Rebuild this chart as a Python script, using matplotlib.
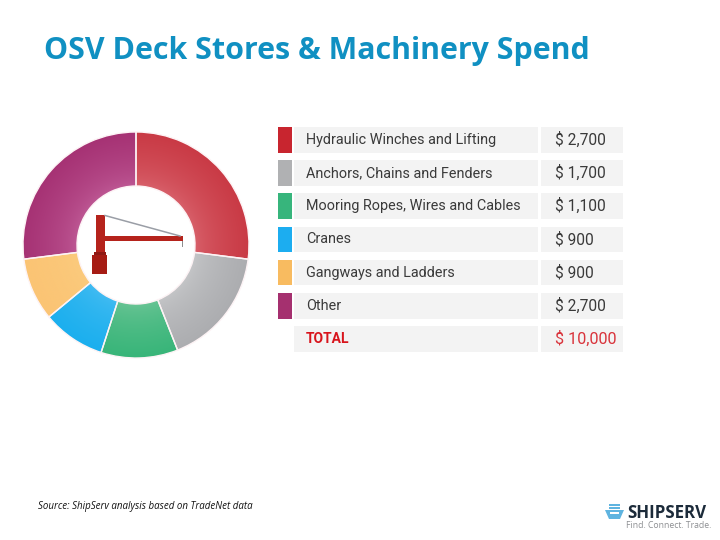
import numpy as np
import matplotlib
matplotlib.use('Agg')
import matplotlib.pyplot as plt
from matplotlib.colors import to_rgb
from matplotlib.patches import Rectangle, Polygon

# data
categories = ['Hydraulic Winches and Lifting', 'Anchors, Chains and Fenders',
              'Mooring Ropes, Wires and Cables', 'Cranes', 'Gangways and Ladders', 'Other']
spend = [2700, 1700, 1100, 900, 900, 2700]
spend_labels = ['$ 2,700', '$ 1,700', '$ 1,100', '$ 900', '$ 900', '$ 2,700']
total_label = 'TOTAL'
total_value = '$ 10,000'

# legend colours, inner and outer shade of the ring
swatch_colors = ['#c8252f', '#b0b1b3', '#37b57c', '#1cadf0', '#f8bb60', '#a5306f']
inner_colors = ['#d9636d', '#c6c7c9', '#6cc596', '#44bcf2', '#fbcb7e', '#bf5a96']
outer_colors = ['#c93a45', '#acadb0', '#38b579', '#1bafee', '#fbc474', '#a63274']

title_color = '#1090c2'

fig = plt.figure(figsize=(7.2, 5.4), dpi=100, facecolor='white')

# page layer in pixel coordinates
ax = fig.add_axes([0, 0, 1, 1])
ax.set_xlim(0, 720)
ax.set_ylim(540, 0)
ax.axis('off')

ax.text(44, 51, 'OSV Deck Stores & Machinery Spend', fontsize=21.9, fontweight='bold',
        family='Open Sans', color=title_color, va='center', ha='left')

# table
row_top = 127
row_step = 33.2
row_h = 25.5
for i, (cat, lab, col) in enumerate(zip(categories, spend_labels, swatch_colors)):
    y = row_top + i * row_step
    ax.add_patch(Rectangle((277.5, y), 14.5, row_h, fc=col, ec='none'))
    ax.add_patch(Rectangle((294, y), 244, row_h, fc='#f3f3f3', ec='none'))
    ax.add_patch(Rectangle((541, y), 82, row_h, fc='#f3f3f3', ec='none'))
    ax.text(306, y + row_h / 2, cat, fontsize=10.35, family='Roboto', color='#3a3a3a', va='center')
    ax.text(555, y + row_h / 2, lab, fontsize=11.2, family='Roboto', color='#3a3a3a', va='center')

y = row_top + 6 * row_step
ax.add_patch(Rectangle((294, y), 244, row_h, fc='#f3f3f3', ec='none'))
ax.add_patch(Rectangle((541, y), 82, row_h, fc='#f3f3f3', ec='none'))
ax.text(306, y + row_h / 2, total_label, fontsize=10, fontweight='bold', family='Roboto',
        color='#d8141c', va='center')
ax.text(555, y + row_h / 2, total_value, fontsize=11.7, family='Roboto', color='#d9343c', va='center')

# source note
ax.text(38, 506.5, 'Source: ShipServ analysis based on TradeNet data', fontsize=7.0, style='italic',
        family='Open Sans', color='#111111', va='center')

# logo
ax.add_patch(Polygon([(605, 510), (624, 510), (620, 519), (609, 519)], fc='#5fb4e0', ec='none'))
ax.add_patch(Rectangle((609, 503.5), 11, 2, fc='#5fb4e0', ec='none'))
ax.add_patch(Rectangle((609, 506.8), 11, 2, fc='#5fb4e0', ec='none'))
ax.add_patch(Rectangle((610, 512), 9, 2, fc='white', ec='none'))
ax.text(627, 513, 'SHIPSERV', fontsize=12.2, fontweight='bold', family='Open Sans',
        color='#1c2b3a', va='center')
ax.text(626, 526, 'Find. Connect. Trade.', fontsize=6.25, family='Open Sans', color='#8d8f92', va='center')

# ring
cx, cy, r_out, r_in = 136, 245, 113, 59
ax_pie = fig.add_axes([(cx - r_out) / 720, 1 - (cy + r_out) / 540, 2 * r_out / 720, 2 * r_out / 540])
wedges, _ = ax_pie.pie(spend, startangle=90, counterclock=False, radius=1,
                       wedgeprops={'width': 1 - r_in / r_out, 'fc': 'none', 'ec': '#fdf3f5', 'lw': 1.0})
ax_pie.set_xlim(-1, 1)
ax_pie.set_ylim(-1, 1)
ax_pie.axis('off')

gx, gy = np.meshgrid(np.linspace(-1, 1, 500), np.linspace(-1, 1, 500))
t = np.clip((np.hypot(gx, gy) - r_in / r_out) / (1 - r_in / r_out), 0, 1)[..., None] ** 0.6
for w, c0, c1 in zip(wedges, inner_colors, outer_colors):
    shade = (1 - t) * np.array(to_rgb(c0)) + t * np.array(to_rgb(c1))
    im = ax_pie.imshow(shade, extent=(-1, 1, -1, 1), origin='lower', zorder=0, aspect='auto')
    im.set_clip_path(w)
    w.set_zorder(2)

# crane in the middle of the ring
ax_top = fig.add_axes([0, 0, 1, 1])
ax_top.set_xlim(0, 720)
ax_top.set_ylim(540, 0)
ax_top.axis('off')
ax_top.plot([105, 180], [215.5, 236], color='#9a9ea6', lw=1.1)
ax_top.plot([182, 182], [241, 246], color='#8a8a8a', lw=0.7)
ax_top.add_patch(Rectangle((105, 235.7), 77.7, 5.3, fc='#b5231c', ec='none'))
ax_top.add_patch(Rectangle((95.5, 215), 9.5, 39, fc='#b5231c', ec='none'))
ax_top.add_patch(Rectangle((94, 252), 11.5, 4, fc='#8f1a14', ec='none'))
ax_top.add_patch(Rectangle((92, 255), 15, 19, fc='#a61c14', ec='none'))

fig.savefig('out.png', dpi=100, facecolor='white')
plt.close(fig)
